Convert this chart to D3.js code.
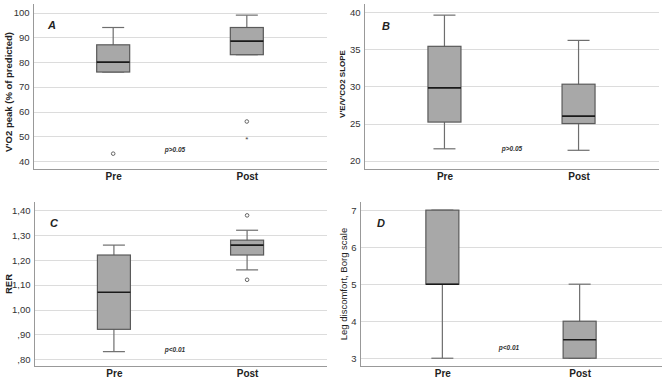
<!DOCTYPE html>
<html>
<head>
<meta charset="utf-8">
<script src="https://cdn.jsdelivr.net/npm/d3@7"></script>
<style>
  body { margin: 0; background: #fff; }
  svg { font-family: Arial, "Liberation Sans", sans-serif; }
</style>
</head>
<body>
<div id="chart"></div>
<script>
// Datos: [bigote inf, Q1, mediana, Q3, bigote sup]
const groups = ["Pre", "Post"];

const vo2Stats = [[76, 76, 80, 87, 94], [83, 83, 88.5, 94, 99]];
const vo2Outliers = [[43], [56]];
const vo2Extremes = [[], [49]];
const vo2Ticks = [40, 50, 60, 70, 80, 90, 100];

const slopeStats = [[21.6, 25.2, 29.8, 35.4, 39.6], [21.4, 25, 26, 30.3, 36.2]];
const slopeOutliers = [[], []];
const slopeExtremes = [[], []];
const slopeTicks = [20, 25, 30, 35, 40];

const rerStats = [[0.83, 0.92, 1.07, 1.22, 1.26], [1.16, 1.22, 1.26, 1.28, 1.32]];
const rerOutliers = [[], [1.38, 1.12]];
const rerExtremes = [[], []];
const rerTicks = [0.8, 0.9, 1.0, 1.1, 1.2, 1.3, 1.4];

const legStats = [[3, 5, 5, 7, 7], [3, 3, 3.5, 4, 5]];
const legOutliers = [[], []];
const legExtremes = [[], []];
const legTicks = [3, 4, 5, 6, 7];

const letters = ["A", "B", "C", "D"];
const yTitles = ["V'O2 peak (% of predicted)", "V'E/V'CO2 SLOPE", "RER", "Leg discomfort, Borg scale"];
const pTexts = ["p>0.05", "p>0.05", "p<0.01", "p<0.01"];
const pValuesY = [44.7, 21.6, 0.84, 3.3];

const W = 669, H = 383;

const svg = d3.select("#chart").append("svg")
  .attr("width", W).attr("height", H);

const commaFmt = d => d3.format(".2f")(d).replace(".", ",").replace(/^0/, "");

// Paneles: posición en píxeles
const panels = [
  { left: 33, right: 327, top: 4, bottom: 169, domain: [36.8, 103.5], ticks: vo2Ticks, fmt: d3.format("d"),
    stats: vo2Stats, out: vo2Outliers, ext: vo2Extremes, titleX: 8, titleY: 92, titleSize: 9.5, titleBold: true, pX: 175, letterX: 48, letterY: 29 },
  { left: 364, right: 659, top: 4, bottom: 169, domain: [18.88, 41.1], ticks: slopeTicks, fmt: d3.format("d"),
    stats: slopeStats, out: slopeOutliers, ext: slopeExtremes, titleX: 342, titleY: 84, titleSize: 8, titleBold: true, pX: 512, letterX: 382, letterY: 30 },
  { left: 34, right: 327, top: 202, bottom: 366, domain: [0.772, 1.434], ticks: rerTicks, fmt: commaFmt,
    stats: rerStats, out: rerOutliers, ext: rerExtremes, titleX: 8, titleY: 284, titleSize: 9.5, titleBold: true, pX: 175, letterX: 50, letterY: 227 },
  { left: 360, right: 662, top: 202, bottom: 366, domain: [2.79, 7.22], ticks: legTicks, fmt: d3.format("d"),
    stats: legStats, out: legOutliers, ext: legExtremes, titleX: 343, titleY: 284, titleSize: 9.5, titleBold: false, pX: 509, letterX: 377, letterY: 227 }
];

panels.forEach((p, i) => {
  const g = svg.append("g");

  const y = d3.scaleLinear().domain(p.domain).range([p.bottom, p.top]);
  const x = d3.scalePoint().domain(groups).range([p.left, p.right]).padding(0.6);

  // Rejilla
  g.append("g").selectAll("line")
    .data(p.ticks)
    .join("line")
    .attr("x1", p.left).attr("x2", p.right)
    .attr("y1", d => Math.round(y(d)) + 0.5).attr("y2", d => Math.round(y(d)) + 0.5)
    .attr("stroke", "#dcdcdc").attr("stroke-width", 1);

  // Eje Y
  const yAxis = g.append("g")
    .attr("transform", `translate(${p.left + 0.5},0)`)
    .call(d3.axisLeft(y).tickValues(p.ticks).tickFormat(p.fmt).tickSize(0).tickPadding(4));
  yAxis.select(".domain").attr("stroke", "#999").attr("d", `M0,${p.top}V${p.bottom}`);
  yAxis.selectAll("text").attr("font-size", 9.5).attr("fill", "#333");

  // Eje X
  const xAxis = g.append("g")
    .attr("transform", `translate(0,${p.bottom + 0.5})`)
    .call(d3.axisBottom(x).tickSize(0).tickPadding(3));
  xAxis.select(".domain").attr("stroke", "#999").attr("d", `M${p.left},0H${p.right}`);
  xAxis.selectAll("text").attr("font-size", 10).attr("font-weight", "bold").attr("fill", "#222");

  // Cajas
  const bw = 33, cw = 22;
  const box = g.append("g").selectAll("g")
    .data(groups.map((k, j) => ({ k, s: p.stats[j], o: p.out[j], e: p.ext[j] })))
    .join("g");

  box.append("line")
    .attr("x1", d => x(d.k)).attr("x2", d => x(d.k))
    .attr("y1", d => y(d.s[0])).attr("y2", d => y(d.s[4]))
    .attr("stroke", "#6e6e6e").attr("stroke-width", 1.2);

  box.selectAll(".cap")
    .data(d => [{ k: d.k, v: d.s[0] }, { k: d.k, v: d.s[4] }])
    .join("line").attr("class", "cap")
    .attr("x1", d => x(d.k) - cw / 2).attr("x2", d => x(d.k) + cw / 2)
    .attr("y1", d => y(d.v)).attr("y2", d => y(d.v))
    .attr("stroke", "#6e6e6e").attr("stroke-width", 1.2);

  box.append("rect")
    .attr("x", d => x(d.k) - bw / 2).attr("width", bw)
    .attr("y", d => y(d.s[3])).attr("height", d => y(d.s[1]) - y(d.s[3]))
    .attr("fill", "#a8a8a8").attr("stroke", "#5a5a5a").attr("stroke-width", 1.2);

  box.append("line")
    .attr("x1", d => x(d.k) - bw / 2).attr("x2", d => x(d.k) + bw / 2)
    .attr("y1", d => y(d.s[2])).attr("y2", d => y(d.s[2]))
    .attr("stroke", "#1a1a1a").attr("stroke-width", 1.6);

  box.selectAll(".out")
    .data(d => d.o.map(v => ({ k: d.k, v })))
    .join("circle").attr("class", "out")
    .attr("cx", d => x(d.k)).attr("cy", d => y(d.v)).attr("r", 1.8)
    .attr("fill", "none").attr("stroke", "#555").attr("stroke-width", 0.9);

  box.selectAll(".ext")
    .data(d => d.e.map(v => ({ k: d.k, v })))
    .join("text").attr("class", "ext")
    .attr("x", d => x(d.k)).attr("y", d => y(d.v) + 3.5)
    .attr("text-anchor", "middle").attr("font-size", 8).attr("fill", "#444")
    .text("*");

  // Título eje Y
  g.append("text")
    .attr("transform", `translate(${p.titleX},${p.titleY}) rotate(-90)`)
    .attr("text-anchor", "middle").attr("dominant-baseline", "central")
    .attr("font-size", p.titleSize).attr("font-weight", p.titleBold ? "bold" : "normal")
    .attr("fill", "#222")
    .text(yTitles[i]);

  // Letra del panel
  g.append("text")
    .attr("x", p.letterX).attr("y", p.letterY)
    .attr("font-size", 11).attr("font-weight", "bold").attr("font-style", "italic")
    .attr("fill", "#222")
    .text(letters[i]);

  // Valor p
  g.append("text")
    .attr("x", p.pX).attr("y", y(pValuesY[i]))
    .attr("text-anchor", "middle").attr("dominant-baseline", "central")
    .attr("font-size", 6.5).attr("font-weight", "bold").attr("font-style", "italic")
    .attr("fill", "#333")
    .text(pTexts[i]);
});
</script>
</body>
</html>
